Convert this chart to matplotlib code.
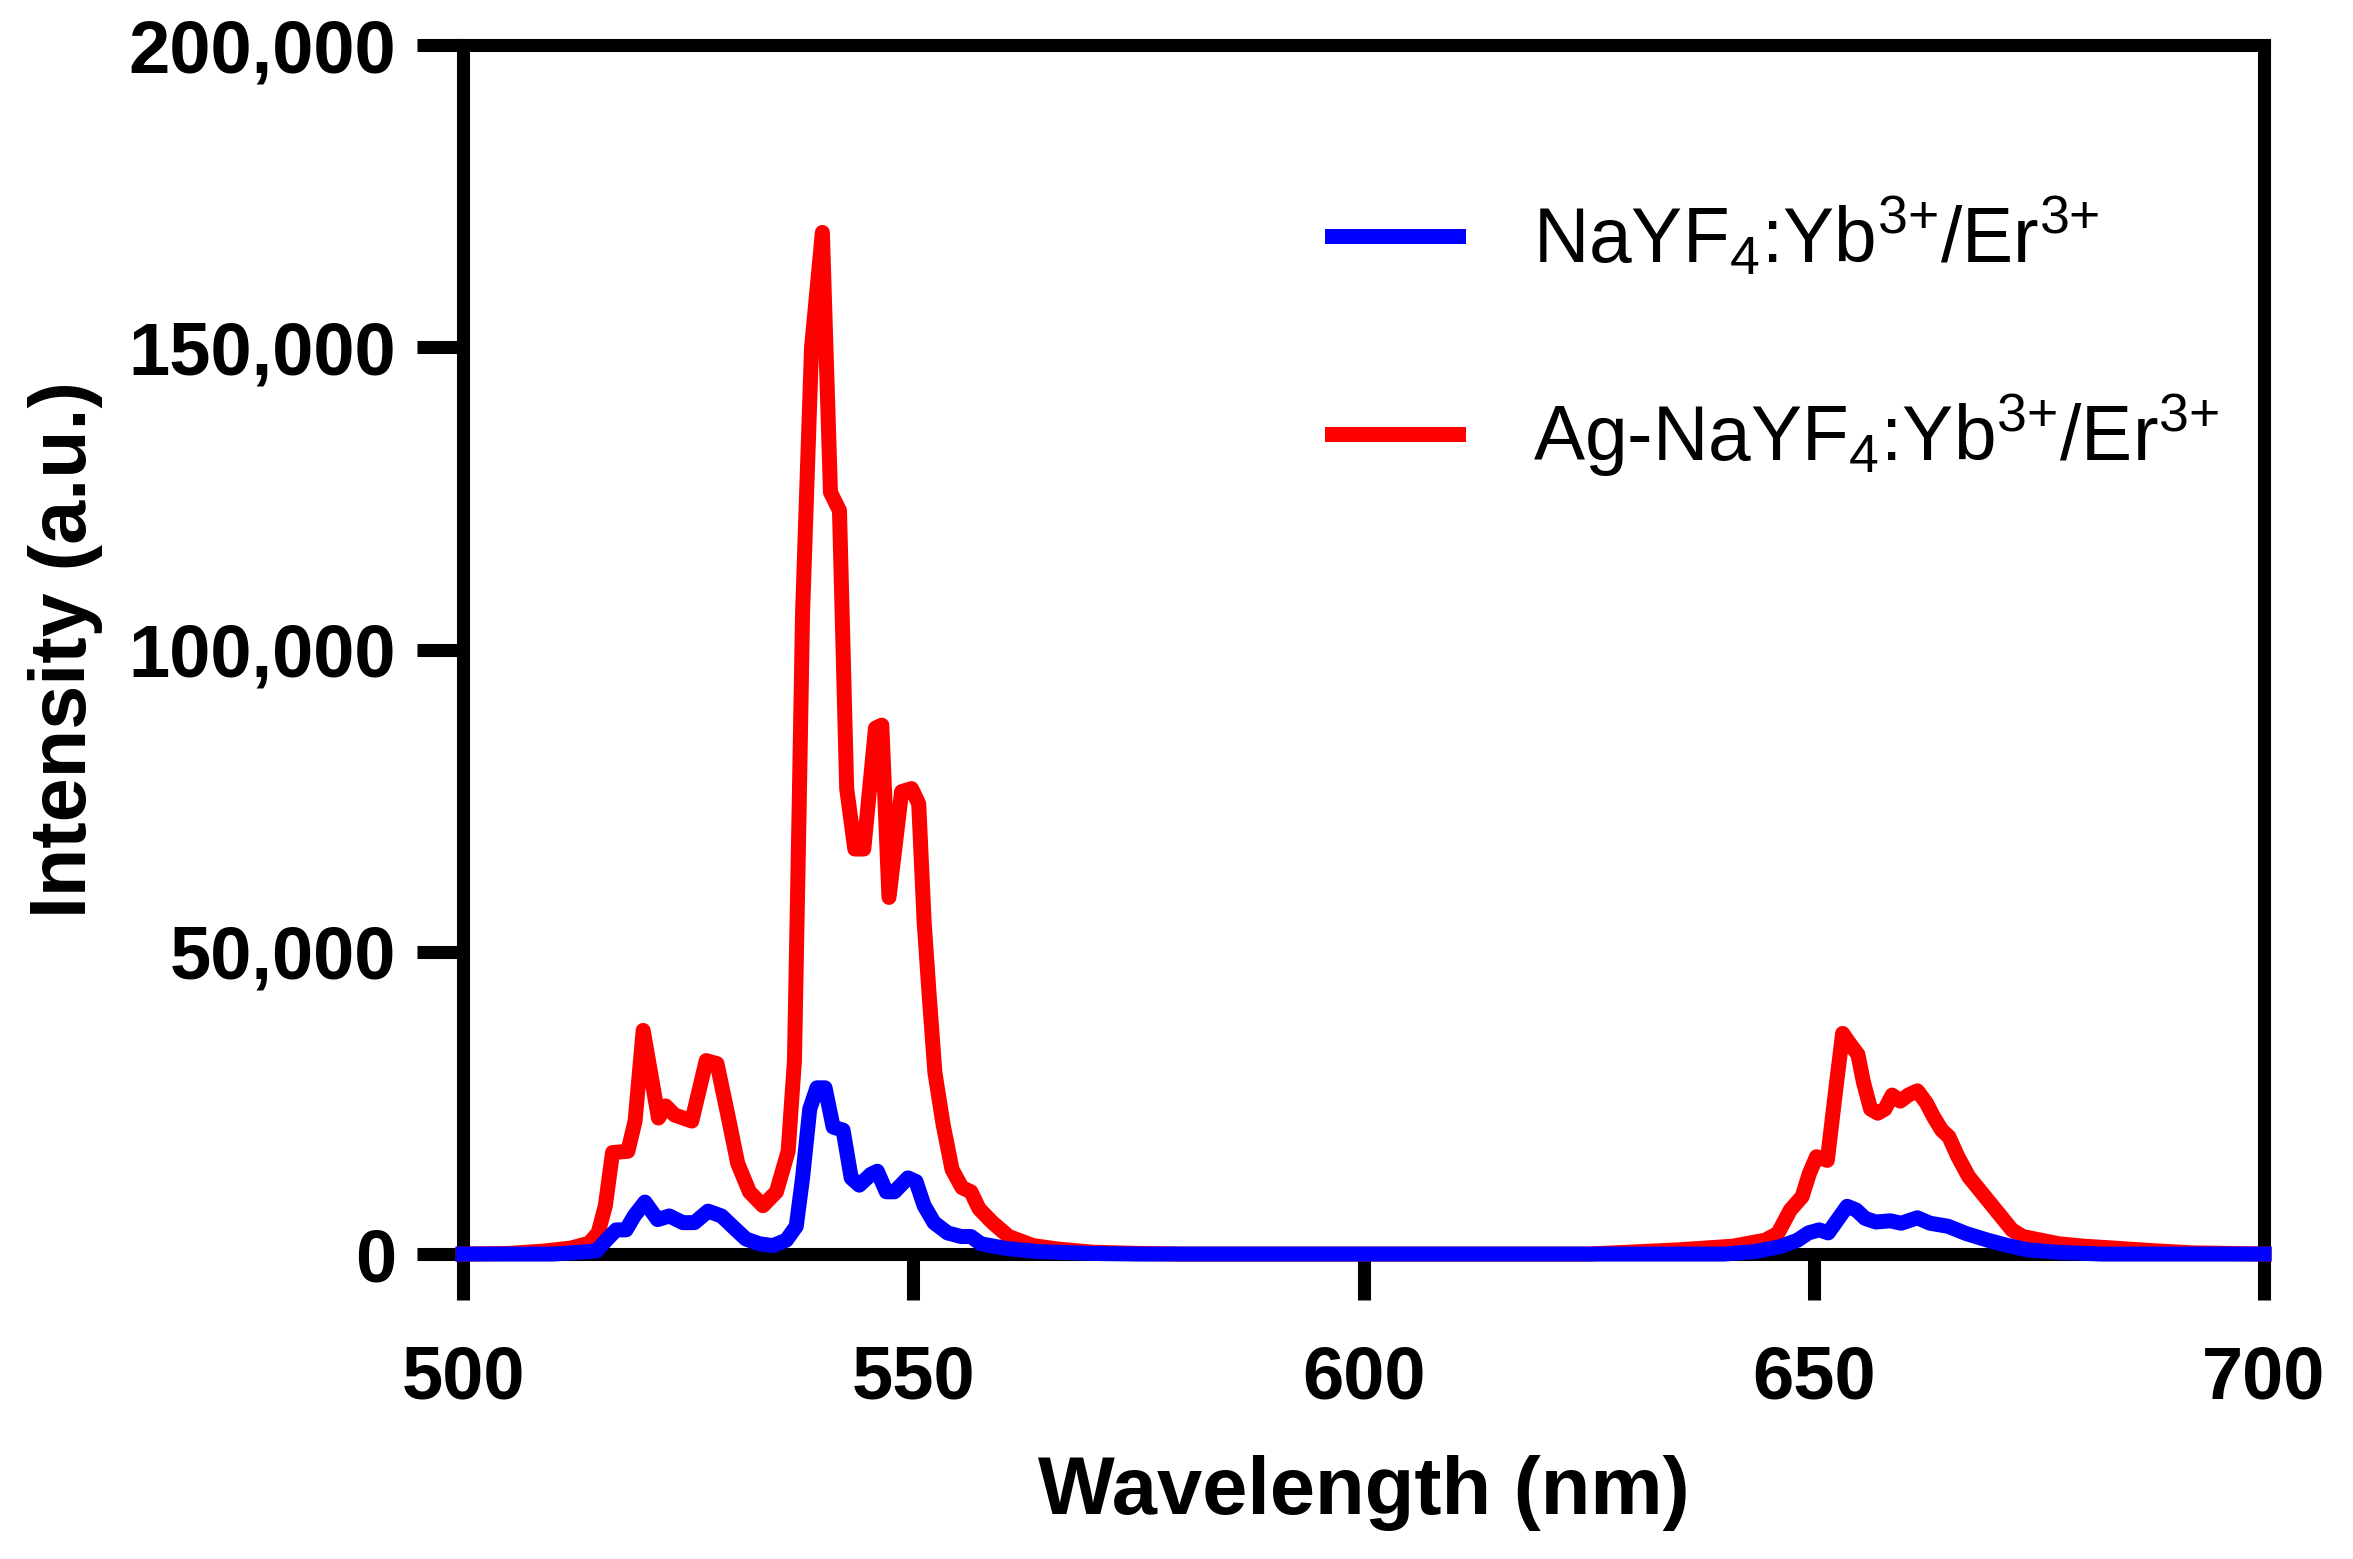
import matplotlib
matplotlib.use("Agg")
import matplotlib.pyplot as plt
from matplotlib.ticker import StrMethodFormatter

# NaYF4:Yb/Er (blue)
wl_blue = [500, 510, 514.8, 515.9, 517.0, 518.1, 519.0, 520.2, 521.6, 522.9, 524.4, 525.7,
           527.2, 528.7, 529.9, 531.4, 532.9, 534.4, 535.9, 537.0, 537.7, 538.5, 539.3,
           540.2, 541.1, 542.2, 543.1, 544.0, 545.3, 546.0, 547.0, 547.9, 549.4, 550.3,
           551.2, 552.3, 553.8, 555.3, 556.4, 557.5, 560.4, 564, 570, 575, 640, 643.4,
           646.2, 648.2, 649.4, 650.6, 651.6, 652.6, 653.7, 654.7, 655.7, 656.9, 658.5,
           659.7, 661.5, 662.9, 664.9, 666.9, 669.3, 671.3, 673.7, 677, 682, 700]
int_blue = [0, 0, 500, 2300, 4000, 4000, 6300, 8600, 5700, 6300, 5200, 5200,
            7100, 6300, 4600, 2500, 1700, 1400, 2300, 4600, 12600, 24000, 27500,
            27500, 21000, 20500, 12600, 11400, 13200, 13700, 10300, 10300, 12600, 12000,
            8000, 5200, 3500, 2900, 2900, 1700, 900, 400, 100, 0, 0, 400,
            1200, 2300, 3500, 4000, 3500, 5600, 7900, 7300, 5900, 5300, 5500,
            5100, 6000, 5100, 4600, 3400, 2300, 1500, 700, 300, 0, 0]

# Ag-NaYF4:Yb/Er (red)
wl_red = [500, 505, 509, 512, 514, 515, 515.8, 516.6, 518.3, 519.1, 520.0, 521.7, 522.5,
          523.5, 525.4, 527.0, 528.2, 529.4, 530.5, 531.8, 533.3, 534.8, 536.1, 536.8,
          537.3, 537.7, 538.7, 539.9, 540.8, 541.8, 542.6, 543.5, 544.5, 545.8, 546.5,
          547.3, 548.7, 549.8, 550.6, 551.2, 551.8, 552.4, 553.3, 554.3, 555.4, 556.4,
          557.3, 558.8, 560.6, 563.3, 566.2, 570, 575, 580, 625, 635, 641, 644.6, 646.0,
          647.4, 648.7, 649.5, 650.3, 651.5, 652.5, 653.2, 653.9, 654.9, 655.5, 656.3,
          657.1, 657.9, 658.7, 659.6, 660.5, 661.5, 662.5, 663.3, 664.2, 665.0, 666.0,
          667.2, 668.4, 669.6, 670.8, 672.0, 673.2, 675.2, 677.2, 680, 683.2, 687.2, 692, 700]
int_red = [0, 100, 500, 1000, 1800, 3500, 8000, 16800, 17000, 22000, 37000, 22500, 24500,
           23000, 22000, 32000, 31500, 23000, 15000, 10300, 8000, 10300, 17000, 32000,
           72000, 106000, 150000, 169000, 126000, 123000, 77000, 67000, 67000, 87000, 87500,
           59000, 76500, 77000, 74500, 55000, 42000, 30000, 21500, 14000, 11000, 10300,
           7500, 5200, 2900, 1400, 800, 300, 100, 0, 0, 700, 1300, 2300, 3400,
           7300, 9500, 13300, 16100, 15500, 28000, 36500, 35000, 33000, 28500, 24000,
           23300, 24000, 26300, 25300, 26300, 27000, 25000, 22700, 20500, 19400, 16100,
           12800, 10600, 8400, 6200, 4000, 2900, 2300, 1700, 1300, 1000, 600, 200, 0]

labels = [r"NaYF$_4$:Yb$^{3{+}}$/Er$^{3{+}}$", r"Ag-NaYF$_4$:Yb$^{3{+}}$/Er$^{3{+}}$"]
x_ticks = [500, 550, 600, 650, 700]
y_ticks = [0, 50000, 100000, 150000, 200000]

plt.rcParams["font.family"] = ["Liberation Sans", "DejaVu Sans"]
plt.rcParams["mathtext.fontset"] = "custom"
plt.rcParams["mathtext.rm"] = "Liberation Sans"
plt.rcParams["mathtext.it"] = "Liberation Sans:italic"
plt.rcParams["mathtext.bf"] = "Liberation Sans:bold"

fig = plt.figure(figsize=(11.765, 7.795), dpi=200)
ax = fig.add_axes([0.1968, 0.1956, 0.7654, 0.7755])

lw = 5.4
l_red, = ax.plot(wl_red, int_red, color="#ff0000", lw=lw, zorder=3, clip_on=False)
l_blue, = ax.plot(wl_blue, int_blue, color="#0000ff", lw=lw, zorder=4, clip_on=False)

ax.set_xlim(500, 700)
ax.set_ylim(0, 200000)
ax.set_xticks(x_ticks)
ax.set_yticks(y_ticks)
ax.yaxis.set_major_formatter(StrMethodFormatter("{x:,.0f}"))

for s in ax.spines.values():
    s.set_linewidth(4.7)
ax.tick_params(length=16.5, width=4.7, labelsize=26.7, direction="out")
ax.tick_params(axis="x", pad=16)
ax.tick_params(axis="y", pad=7.7)
for lab in ax.get_xticklabels() + ax.get_yticklabels():
    lab.set_fontweight("bold")

ax.set_xlabel("Wavelength (nm)", fontsize=29.3, fontweight="bold", labelpad=15)
ax.set_ylabel("Intensity (a.u.)", fontsize=28.5, fontweight="bold", labelpad=9)

ax.legend([l_blue, l_red], labels, loc="center left", bbox_to_anchor=(0.4825, 0.758),
          frameon=False, fontsize=27.6, handlelength=1.64, handletextpad=0.98,
          labelspacing=1.48, borderpad=0, borderaxespad=0)

fig.savefig("out.png", dpi=200)
